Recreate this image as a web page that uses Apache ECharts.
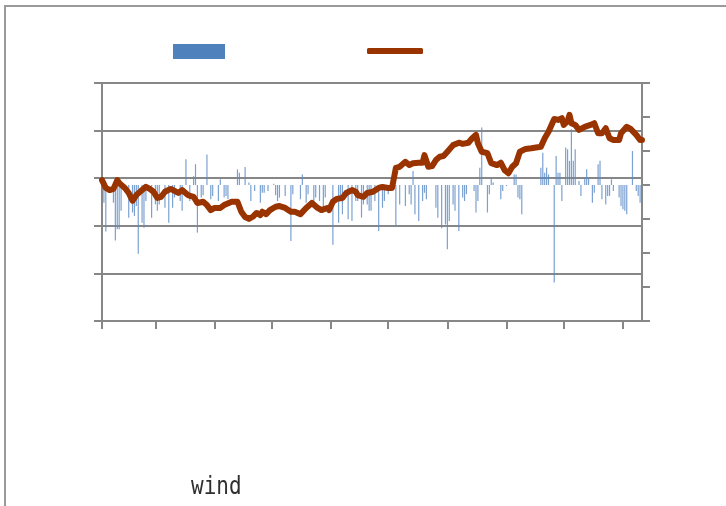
<!DOCTYPE html>
<html>
<head>
<meta charset="utf-8">
<script src="https://cdn.jsdelivr.net/npm/echarts@6/dist/echarts.min.js"></script>
<style>
html,body{margin:0;padding:0;background:#fff;}
#chart{width:726px;height:506px;}
</style>
</head>
<body>
<div id="chart"></div>
<script>
// Daily categories: 2011-02-01 .. 2011-11-11
const startDate = '2011-02-01';
const endDate = '2011-11-11';

// Bar series (right axis): [dayIndex, value]
const windBars = [
  [1,-5.2],[2,-13.7],[6,-5.2],[7,-16.3],[8,-13],[9,-13],[10,-7.6],[14,-9.6],[16,-8.1],[17,-9.1],
  [18,-6.2],[19,-20.2],[21,-11.1],[22,-12.6],[23,-4.7],[26,-9.6],[28,-5.7],[29,-7.6],[30,-5.7],[33,-6.7],
  [35,-11.1],[37,-6.7],[38,-3.7],[41,-4.7],[42,-7.6],[44,7.6],[46,-4.7],[48,2.6],[49,6.1],[50,-14],
  [52,-3.7],[53,-3],[55,9],[57,-4.2],[58,-3.2],[61,-4.7],[62,1.7],[64,-3.7],[65,-3.2],[66,-4.1],
  [71,4.6],[72,3.6],[75,5.3],[77,0.7],[78,-4.7],[80,-1.8],[83,-5.2],[84,-2.3],[85,-2.3],[87,-1.8],
  [90,0.4],[91,-3],[92,-4.7],[93,-3.7],[96,-3.2],[99,-16.5],[100,-2.7],[104,-4.2],[105,3.1],[107,-5.2],
  [108,-2.7],[111,-5.2],[112,-3.7],[114,-4.7],[116,-6.7],[117,-3.7],[121,-17.6],[124,-11.1],[125,-4.7],[126,-8.6],
  [129,-10.1],[131,-10.6],[133,-4.7],[134,-4.7],[136,-9.6],[137,-5.7],[139,-5.7],[140,-7.6],[141,-7.6],[143,-4.7],
  [145,-13.5],[147,-6.7],[148,-4.7],[150,-2.7],[154,-12.1],[156,-5.7],[159,-6.2],[161,-2.7],[162,-5.7],[163,4.1],
  [164,-8.6],[166,-10.6],[168,-4.7],[169,-2.3],[170,-4.2],[175,-6.7],[176,-9.6],[178,-12.7],[180,-11.6],[181,-18.9],
  [182,-10.6],[184,-5.7],[185,-7.6],[187,-13.5],[189,-3.7],[190,-4.7],[191,-2.7],[195,-1.8],[196,-8.1],[197,-4.7],
  [198,5.1],[199,16.9],[202,-8.1],[203,-2.7],[204,2.1],[205,0.7],[209,-4.2],[210,-1.8],[212,-0.3],[216,3.1],
  [217,3.1],[218,-3.7],[219,-4.2],[220,-8.6],[230,5.1],[231,9.5],[232,3.6],[233,5.1],[234,3.1],[237,-28.7],
  [238,8.5],[239,3.6],[240,3.6],[241,-4.7],[243,11],[244,10.5],[245,7.1],[246,16.4],[247,7.1],[248,10.5],
  [250,1.2],[251,-3.2],[253,2.1],[254,4.6],[255,2.1],[257,-5.2],[258,-2.3],[260,6.1],[261,7.1],[262,-4.2],
  [264,-5.7],[265,-3.2],[266,-3.2],[267,1.7],[268,-1.8],[271,-3.7],[272,-6.2],[273,-7.1],[274,-7.6],[275,-8.6],
  [278,10],[280,-1.8],[281,-3.2],[282,-5.2]
];

// Line series (left axis): [dayIndex, value]
const cumulative = [
  [0,59.2],[2,55.9],[4,55.0],[6,55.5],[8,59.2],[9,58.0],[12,55.9],[14,53.8],[16,50.5],[18,52.9],
  [21,55.0],[23,56.4],[25,55.5],[27,54.3],[29,51.7],[31,52.2],[33,54.3],[36,55.5],[37,55.0],[40,53.8],
  [42,55.0],[43,55.5],[45,52.9],[48,52.2],[50,49.6],[53,50.1],[55,48.7],[57,46.6],[59,47.5],[62,47.5],
  [64,48.7],[68,50.1],[69,50.8],[71,50.1],[73,45.9],[75,43.7],[77,42.9],[79,43.8],[81,45.4],[83,44.5],
  [84,45.9],[86,44.9],[88,46.6],[91,48.0],[93,48.3],[96,47.5],[99,45.9],[101,45.9],[104,44.9],[105,44.5],
  [107,47.5],[110,49.6],[113,47.5],[115,46.6],[118,47.5],[119,46.6],[121,50.1],[123,51.3],[126,51.7],[128,53.8],
  [131,55.0],[133,54.3],[134,52.9],[137,52.2],[139,53.8],[140,53.8],[142,54.3],[145,55.9],[147,56.3],[150,55.9],
  [152,55.9],[154,64.3],[156,64.8],[159,66.9],[161,65.5],[163,66.3],[166,66.5],[168,66.5],[169,69.7],[171,64.8],
  [173,65.1],[175,67.6],[177,69.0],[179,69.3],[181,71.1],[182,70.5],[184,73.9],[187,74.9],[189,74.4],[192,74.9],
  [194,76.8],[196,78.2],[197,74.7],[199,71.1],[202,70.5],[204,66.3],[207,65.5],[209,66.5],[211,63.4],[213,62.1],
  [215,64.8],[217,66.3],[219,71.1],[222,72.3],[225,72.6],[230,73.2],[232,76.8],[234,79.5],[236,83.1],[237,84.9],
  [239,84.5],[241,85.2],[242,82.4],[244,84.0],[245,86.6],[246,83.1],[248,82.4],[250,80.3],[251,79.5],[253,81.6],
  [256,82.4],[258,83.1],[260,78.9],[262,78.9],[264,81.0],[266,76.8],[268,76.1],[271,76.1],[272,78.9],[275,81.6],
  [277,80.7],[280,78.2],[282,76.1],[283,76.1]
];

const leftAxis = {min: 0, max: 100, interval: 20};
const rightAxis = {min: -40, max: 30, interval: 10};
const titleText = 'wind';

// build category list
const days = [];
(function(){
  const d = new Date(startDate + 'T00:00:00Z');
  const e = new Date(endDate + 'T00:00:00Z');
  while (d <= e) {
    days.push(d.toISOString().slice(0,10));
    d.setUTCDate(d.getUTCDate() + 1);
  }
})();

const axisGray = '#878787';
const chart = echarts.init(document.getElementById('chart'), null, {renderer: 'canvas'});
chart.setOption({
  animation: false,
  backgroundColor: '#fff',
  graphic: [{
    type: 'rect', z: -1, silent: true,
    shape: {x: 5, y: 6, width: 760, height: 540},
    style: {fill: 'none', stroke: '#9a9a9a', lineWidth: 2}
  }, {
    type: 'text', x: 191, y: 475, scaleX: 0.84, silent: true,
    style: {
      text: titleText, fill: '#2f2f2f',
      font: 'normal 25px "DejaVu Sans Mono"',
      verticalAlign: 'top', align: 'left'
    }
  }],
  legend: [{
    left: 173, top: 44, padding: 0,
    itemWidth: 52, itemHeight: 15,
    formatter: () => '',
    selectedMode: false,
    data: [{name: 'wind', icon: 'rect', itemStyle: {color: '#4f81bd', opacity: 1}}]
  }, {
    left: 367, top: 48, padding: 0,
    itemWidth: 56, itemHeight: 6,
    formatter: () => '',
    selectedMode: false,
    data: [{name: 'total', icon: 'roundRect', itemStyle: {color: '#993300', borderWidth: 0}}]
  }],
  grid: {left: 102, right: 84, top: 83, bottom: 185, containLabel: false},
  xAxis: {
    type: 'category', data: days, boundaryGap: false,
    axisLine: {show: true, lineStyle: {color: axisGray, width: 2}},
    axisTick: {show: true, length: 8, lineStyle: {color: axisGray, width: 2},
      interval: (i, v) => v.slice(8) === '01'},
    axisLabel: {show: false},
    splitLine: {show: false}
  },
  yAxis: [{
    type: 'value', position: 'left', min: leftAxis.min, max: leftAxis.max, interval: leftAxis.interval,
    axisLine: {show: true, lineStyle: {color: axisGray, width: 2}},
    axisTick: {show: true, length: 8, lineStyle: {color: axisGray, width: 2}},
    axisLabel: {show: false},
    splitLine: {show: true, lineStyle: {color: axisGray, width: 2}}
  }, {
    type: 'value', position: 'right', min: rightAxis.min, max: rightAxis.max, interval: rightAxis.interval,
    axisLine: {show: true, lineStyle: {color: axisGray, width: 2}},
    axisTick: {show: true, length: 8, lineStyle: {color: axisGray, width: 2}},
    axisLabel: {show: false},
    splitLine: {show: false}
  }],
  series: [{
    name: 'wind', type: 'bar', yAxisIndex: 1, data: windBars,
    barWidth: 1.2,
    itemStyle: {color: '#5a8ac6', opacity: 0.8}
  }, {
    name: 'total', type: 'line', yAxisIndex: 0, data: cumulative,
    showSymbol: false, symbol: 'none', smooth: false,
    lineStyle: {color: '#993300', width: 6, cap: 'round', join: 'round'},
    itemStyle: {color: '#993300'}
  }]
});
</script>
</body>
</html>
